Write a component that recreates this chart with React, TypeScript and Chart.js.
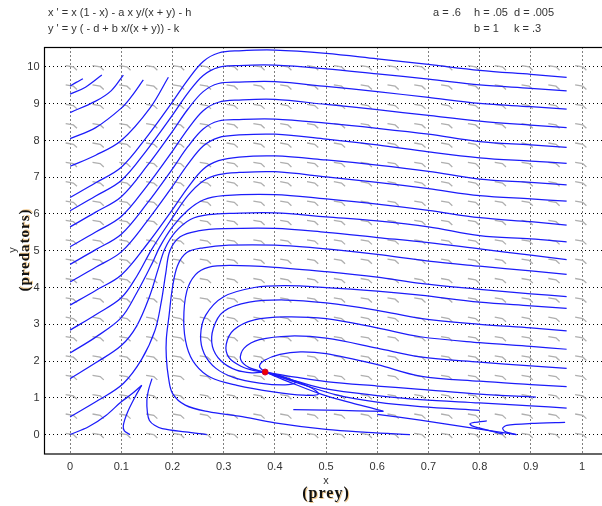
import React, { useEffect, useRef } from "react";
import { Chart, registerables } from "chart.js";

Chart.register(...registerables);

type P = [number, number];

// ---- axes ----
const xTicks = [0, 0.1, 0.2, 0.3, 0.4, 0.5, 0.6, 0.7, 0.8, 0.9, 1];
const xTickLabels = ["0", "0.1", "0.2", "0.3", "0.4", "0.5", "0.6", "0.7", "0.8", "0.9", "1"];
const yTicks = [0, 1, 2, 3, 4, 5, 6, 7, 8, 9, 10];
const yTickLabels = ["0", "1", "2", "3", "4", "5", "6", "7", "8", "9", "10"];
const xRange = [-0.05, 1.05];
const yRange = [-0.53, 10.53];

// ---- direction-field grid (arrow centres) ----
const fieldX = [0.0024, 0.0548, 0.1071, 0.1595, 0.2119, 0.2643, 0.3167, 0.369, 0.4214, 0.4738,
  0.5262, 0.5786, 0.631, 0.6833, 0.7357, 0.7881, 0.8405, 0.8929, 0.9452, 0.9976];
const fieldY = [-0.003, 0.523, 1.05, 1.577, 2.103, 2.63, 3.157, 3.683, 4.21, 4.737,
  5.263, 5.79, 6.317, 6.843, 7.37, 7.897, 8.423, 8.95, 9.477, 10.003];

// ---- trajectories ----
const upperLeftCurves: P[][] = [
  [[0, 9.48], [0.012, 9.58], [0.025, 9.68]],
  [[0, 9.26], [0.03, 9.45], [0.062, 9.78]],
  [[0, 8.76], [0.05, 9.07], [0.08, 9.35], [0.104, 9.78]],
  [[0, 8.05], [0.05, 8.35], [0.1, 8.88], [0.12, 9.2], [0.143, 9.65]],
  [[0, 7.3], [0.05, 7.6], [0.1, 8.0], [0.156, 8.88], [0.192, 9.72]],
];

const sCurves: P[][] = [
  [[0, 6.45], [0.05, 6.85], [0.1, 7.27], [0.15, 8.1], [0.2, 9.05], [0.23, 9.65], [0.26, 10.15], [0.29, 10.38], [0.33, 10.44], [0.4, 10.46], [0.5, 10.37], [0.6, 10.22], [0.7, 10.07], [0.8, 9.91], [0.9, 9.8], [0.97, 9.72]],
  [[0, 6.09], [0.05, 6.49], [0.1, 6.91], [0.15, 7.74], [0.2, 8.69], [0.23, 9.29], [0.26, 9.77], [0.29, 9.99], [0.33, 10.04], [0.4, 10.05], [0.5, 9.95], [0.6, 9.81], [0.7, 9.67], [0.8, 9.51], [0.9, 9.42], [0.97, 9.35]],
  [[0, 5.65], [0.05, 6.05], [0.1, 6.47], [0.15, 7.3], [0.2, 8.25], [0.23, 8.85], [0.26, 9.33], [0.29, 9.55], [0.33, 9.59], [0.4, 9.6], [0.5, 9.47], [0.6, 9.33], [0.7, 9.17], [0.8, 9.01], [0.9, 8.92], [0.97, 8.85]],
  [[0, 5.11], [0.05, 5.51], [0.1, 5.93], [0.15, 6.76], [0.2, 7.71], [0.23, 8.31], [0.26, 8.81], [0.29, 9.04], [0.33, 9.1], [0.4, 9.12], [0.5, 8.98], [0.6, 8.84], [0.7, 8.68], [0.8, 8.53], [0.9, 8.42], [0.97, 8.35]],
  [[0, 4.63], [0.05, 5.03], [0.1, 5.45], [0.15, 6.28], [0.2, 7.23], [0.23, 7.83], [0.26, 8.31], [0.29, 8.53], [0.33, 8.57], [0.4, 8.58], [0.5, 8.47], [0.6, 8.33], [0.7, 8.17], [0.8, 7.97], [0.9, 7.88], [0.97, 7.81]],
  [[0, 4.15], [0.05, 4.55], [0.1, 4.97], [0.15, 5.8], [0.2, 6.75], [0.23, 7.35], [0.26, 7.85], [0.29, 8.08], [0.33, 8.15], [0.4, 8.17], [0.5, 8.04], [0.6, 7.88], [0.7, 7.69], [0.8, 7.53], [0.9, 7.44], [0.97, 7.38]],
  [[0, 3.52], [0.05, 3.92], [0.1, 4.34], [0.15, 5.17], [0.2, 6.12], [0.23, 6.72], [0.26, 7.22], [0.29, 7.45], [0.33, 7.55], [0.4, 7.58], [0.5, 7.47], [0.6, 7.33], [0.7, 7.16], [0.8, 6.95], [0.9, 6.86], [0.97, 6.79]],
  [[0, 2.84], [0.05, 3.26], [0.1, 3.72], [0.13, 4.3], [0.16, 5.05], [0.2, 5.9], [0.23, 6.5], [0.26, 6.9], [0.29, 7.07], [0.33, 7.13], [0.4, 7.15], [0.5, 7.01], [0.6, 6.86], [0.7, 6.69], [0.8, 6.5], [0.9, 6.41], [0.97, 6.35]],
  [[0, 2.22], [0.05, 2.65], [0.1, 3.18], [0.13, 3.85], [0.16, 4.65], [0.175, 5.1], [0.2, 5.65], [0.23, 6.1], [0.26, 6.38], [0.3, 6.5], [0.4, 6.53], [0.5, 6.41], [0.6, 6.27], [0.7, 6.1], [0.8, 5.9], [0.9, 5.79], [0.97, 5.7]],
  [[0, 1.52], [0.05, 1.95], [0.1, 2.42], [0.13, 2.95], [0.155, 3.75], [0.172, 4.5], [0.185, 5.05], [0.205, 5.5], [0.235, 5.85], [0.27, 5.98], [0.32, 6.02], [0.4, 6.03], [0.5, 5.92], [0.6, 5.81], [0.7, 5.65], [0.8, 5.41], [0.9, 5.32], [0.97, 5.24]],
  [[0, 0.48], [0.055, 0.93], [0.104, 1.39], [0.14, 2.05], [0.166, 2.84], [0.178, 3.6], [0.187, 4.4], [0.195, 5.0], [0.215, 5.38], [0.25, 5.54], [0.3, 5.6], [0.4, 5.61], [0.5, 5.5], [0.6, 5.36], [0.7, 5.22], [0.8, 5.05], [0.9, 4.88], [0.97, 4.76]],
  [[0.97, 4.36], [0.9, 4.45], [0.8, 4.58], [0.7, 4.72], [0.6, 4.9], [0.5, 5.05], [0.4, 5.15], [0.31, 5.15], [0.26, 5.08], [0.228, 4.95], [0.21, 4.6], [0.2, 4.0], [0.193, 3.2], [0.188, 2.6], [0.188, 2.1], [0.192, 1.57], [0.2, 1.12], [0.225, 0.8], [0.27, 0.62], [0.33, 0.5], [0.4, 0.32], [0.5, 0.14], [0.58, 0.06], [0.664, 0.0]],
];

const loopCurves: P[][] = [
  [[0.97, 3.75], [0.9, 3.83], [0.8, 3.95], [0.684, 4.11], [0.6, 4.28], [0.5, 4.43], [0.4, 4.55], [0.313, 4.6], [0.27, 4.55], [0.245, 4.35], [0.228, 3.9], [0.222, 3.1], [0.228, 2.4], [0.245, 1.9], [0.275, 1.55], [0.326, 1.34], [0.397, 1.16], [0.456, 1.07], [0.485, 1.1], [0.47, 1.28], [0.43, 1.5], [0.381, 1.7]],
  [[0.97, 3.43], [0.9, 3.5], [0.8, 3.6], [0.684, 3.79], [0.6, 3.9], [0.5, 4.0], [0.42, 4.05], [0.36, 4.0], [0.3, 3.75], [0.265, 3.25], [0.255, 2.7], [0.262, 2.2], [0.285, 1.8], [0.32, 1.55], [0.37, 1.4], [0.42, 1.35], [0.44, 1.42], [0.41, 1.6], [0.381, 1.7]],
  [[0.97, 2.82], [0.9, 2.9], [0.8, 3.0], [0.684, 3.16], [0.6, 3.38], [0.5, 3.58], [0.42, 3.66], [0.35, 3.6], [0.3, 3.35], [0.28, 2.9], [0.278, 2.4], [0.295, 2.0], [0.325, 1.75], [0.355, 1.68], [0.381, 1.7]],
  [[0.97, 2.32], [0.9, 2.4], [0.8, 2.5], [0.684, 2.66], [0.6, 2.9], [0.5, 3.15], [0.42, 3.2], [0.36, 3.12], [0.32, 2.85], [0.305, 2.45], [0.31, 2.1], [0.335, 1.85], [0.36, 1.74], [0.381, 1.7]],
  [[0.97, 1.8], [0.9, 1.87], [0.8, 1.97], [0.684, 2.11], [0.6, 2.35], [0.5, 2.62], [0.43, 2.68], [0.37, 2.58], [0.34, 2.35], [0.333, 2.05], [0.35, 1.82], [0.381, 1.7]],
  [[0.97, 1.3], [0.9, 1.36], [0.8, 1.45], [0.684, 1.59], [0.6, 1.9], [0.5, 2.2], [0.45, 2.25], [0.41, 2.18], [0.38, 2.02], [0.37, 1.85], [0.381, 1.7]],
];

const directCurves: P[][] = [
  [[0.91, 1.02], [0.8, 1.1], [0.684, 1.23], [0.6, 1.32], [0.5, 1.44], [0.44, 1.56], [0.381, 1.7]],
  [[0.97, 0.72], [0.9, 0.78], [0.8, 0.86], [0.684, 0.95], [0.6, 1.06], [0.5, 1.24], [0.44, 1.46], [0.381, 1.7]],
  [[0.8, 0.66], [0.684, 0.76], [0.6, 0.88], [0.52, 1.08], [0.45, 1.38], [0.381, 1.7]],
  [[0.612, 0.63], [0.595, 0.7], [0.55, 0.86], [0.49, 1.1], [0.43, 1.42], [0.381, 1.7]],
];

const bottomCurves: P[][] = [
  [[0.436, 0.68], [0.5, 0.665], [0.56, 0.645], [0.612, 0.63]],
  [[0.6, 0.55], [0.684, 0.39], [0.78, 0.19], [0.872, 0.0]],
  [[0.814, 0.37], [0.79, 0.33], [0.781, 0.29], [0.788, 0.22], [0.804, 0.16], [0.846, 0.01]],
  [[0.967, 0.33], [0.9, 0.3], [0.853, 0.25], [0.845, 0.17], [0.85, 0.08], [0.872, 0.0]],
];

const lowerLeftCurves: P[][] = [
  [[0, 0], [0.036, 0.21], [0.07, 0.52], [0.1, 0.89], [0.122, 1.12], [0.14, 1.34]],
  [[0.14, 1.34], [0.128, 1.05], [0.112, 0.6], [0.104, 0.25], [0.106, 0.1], [0.117, 0.0]],
  [[0.16, 1.52], [0.153, 1.2], [0.15, 0.93], [0.151, 0.6], [0.155, 0.38], [0.165, 0.25], [0.18, 0.16], [0.225, 0.07], [0.267, 0.0]],
];

const equilibrium: P[] = [[0.381, 1.7]];

const framePlugin = {
  id: "frame",
  afterDatasetsDraw(chart: any) {
    const { ctx, chartArea: a } = chart;
    ctx.save();
    ctx.strokeStyle = "#000";
    ctx.lineWidth = 1.2;
    ctx.strokeRect(a.left, a.top, a.right - a.left, a.bottom - a.top);
    ctx.restore();
  },
};

export default function App() {
  const ref = useRef<HTMLCanvasElement>(null);

  useEffect(() => {
    const blue = "rgb(28,28,250)";
    const toPts = (c: P[]) => c.map(([x, y]) => ({ x, y }));
    const curveSet = (c: P[], tension = 0.35) => ({
      data: toPts(c),
      showLine: true,
      borderColor: blue,
      borderWidth: 1.25,
      pointRadius: 0,
      tension,
      fill: false,
      order: 1,
    });

    const fieldPts: { x: number; y: number }[] = [];
    for (const fy of fieldY) {
      for (const fx of fieldX) {
        fieldPts.push({ x: fx - 0.011, y: fy + 0.035 });
        fieldPts.push({ x: fx + 0.004, y: fy });
        fieldPts.push({ x: fx + 0.011, y: fy - 0.09 });
        fieldPts.push({ x: NaN, y: NaN });
      }
    }

    const datasets: any[] = [
      {
        data: toPts(equilibrium),
        showLine: false,
        pointRadius: 3,
        pointBackgroundColor: "rgb(240,0,0)",
        pointBorderColor: "rgb(200,0,60)",
        pointBorderWidth: 1,
        order: 0,
      },
      ...upperLeftCurves.map((c) => curveSet(c)),
      ...sCurves.map((c) => curveSet(c)),
      ...loopCurves.map((c) => curveSet(c)),
      ...directCurves.map((c) => curveSet(c)),
      ...bottomCurves.map((c) => curveSet(c, 0.25)),
      ...lowerLeftCurves.map((c) => curveSet(c)),
      {
        data: fieldPts,
        showLine: true,
        spanGaps: false,
        borderColor: "rgb(175,175,175)",
        borderWidth: 1.3,
        pointRadius: 0,
        tension: 0,
        order: 10,
      },
    ];

    const tickFont = { family: "'Liberation Sans', Arial, sans-serif", size: 11 };

    const chart = new Chart(ref.current as HTMLCanvasElement, {
      type: "scatter",
      data: { datasets },
      plugins: [framePlugin],
      options: {
        responsive: false,
        animation: false,
        devicePixelRatio: 1,
        layout: { padding: { top: 47.5, right: 12.4, left: 0, bottom: 0 } },
        plugins: { legend: { display: false }, tooltip: { enabled: false } },
        events: [],
        scales: {
          x: {
            type: "linear",
            min: xRange[0],
            max: xRange[1],
            afterBuildTicks: (axis: any) => {
              axis.ticks = xTicks.map((v) => ({ value: v }));
            },
            afterFit: (scale: any) => {
              scale.height = 52;
            },
            ticks: {
              autoSkip: false,
              maxRotation: 0,
              padding: 6,
              color: "#333",
              font: tickFont,
              callback: (_v: any, i: number) => xTickLabels[i],
            },
            grid: { color: "#000", lineWidth: 1, drawTicks: false },
            border: { display: false, dash: [1, 3] },
          },
          y: {
            type: "linear",
            min: yRange[0],
            max: yRange[1],
            afterBuildTicks: (axis: any) => {
              axis.ticks = yTicks.map((v) => ({ value: v }));
            },
            afterFit: (scale: any) => {
              scale.width = 44.5;
            },
            ticks: {
              autoSkip: false,
              padding: 5,
              color: "#333",
              font: tickFont,
              callback: (_v: any, i: number) => yTickLabels[i],
            },
            grid: { color: "#000", lineWidth: 1, drawTicks: false },
            border: { display: false, dash: [1, 3] },
          },
        },
      } as any,
    });
    return () => chart.destroy();
  }, []);

  const small: React.CSSProperties = {
    position: "absolute",
    fontFamily: "'Liberation Sans', Arial, sans-serif",
    fontSize: 11,
    lineHeight: "12px",
    color: "#333",
    whiteSpace: "pre",
  };
  const bold: React.CSSProperties = {
    position: "absolute",
    fontFamily: "'Liberation Serif', 'Times New Roman', serif",
    fontWeight: "bold",
    fontSize: 16,
    letterSpacing: "1px",
    color: "#111",
    whiteSpace: "pre",
    textShadow: "1px 1px 0 rgba(230,150,30,0.5)",
  };

  return (
    <div style={{ position: "fixed", left: 0, top: 0, width: 602, height: 506, overflow: "hidden", background: "#fff" }}>
      <canvas ref={ref} width={620} height={506} style={{ position: "absolute", left: 0, top: 0, width: 620, height: 506 }} />
      <div style={{ ...small, left: 48, top: 6 }}>{"x ' = x (1 - x) - a x y/(x + y) - h"}</div>
      <div style={{ ...small, left: 48, top: 22 }}>{"y ' = y ( - d + b x/(x + y)) - k"}</div>
      <div style={{ ...small, left: 433, top: 6 }}>{"a = .6"}</div>
      <div style={{ ...small, left: 474, top: 6 }}>{"h = .05"}</div>
      <div style={{ ...small, left: 514, top: 6 }}>{"d = .005"}</div>
      <div style={{ ...small, left: 474, top: 22 }}>{"b = 1"}</div>
      <div style={{ ...small, left: 514, top: 22 }}>{"k = .3"}</div>
      <div style={{ ...small, left: 326, top: 480, transform: "translate(-50%,-50%)" }}>x</div>
      <div style={{ ...bold, left: 326, top: 493, transform: "translate(-50%,-50%)" }}>(prey)</div>
      <div style={{ ...small, left: 12, top: 250, transform: "translate(-50%,-50%) rotate(-90deg)" }}>y</div>
      <div style={{ ...bold, fontSize: 15, left: 24, top: 250, transform: "translate(-50%,-50%) rotate(-90deg)" }}>(predators)</div>
    </div>
  );
}
